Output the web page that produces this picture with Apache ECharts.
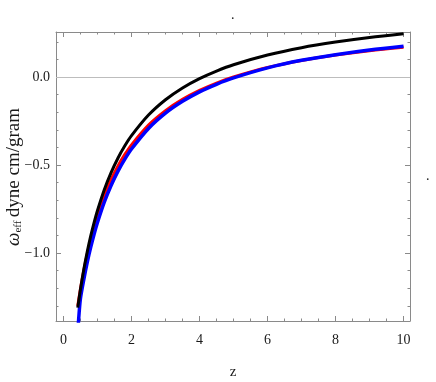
<!DOCTYPE html>
<html><head><meta charset="utf-8">
<script src="https://cdn.jsdelivr.net/npm/echarts@6/dist/echarts.min.js"></script>
<style>html,body{margin:0;padding:0;background:#fff}#c{width:436px;height:382px}</style>
</head><body><div id="c"></div>
<script>
// ---- data ----
const zMain = [0.42,0.5,0.6,0.7,0.8,0.9,1.0,1.2,1.4,1.6,1.8,2.0,2.5,3.0,3.5,4.0,4.5,5.0,6.0,7.0,8.0,9.0,10];
const blackVals = [-1.31,-1.206,-1.091,-0.992,-0.904,-0.827,-0.758,-0.640,-0.543,-0.461,-0.392,-0.333,-0.216,-0.129,-0.062,-0.009,0.034,0.070,0.125,0.167,0.199,0.225,0.246];
const redVals = [-1.300,-1.203,-1.097,-1.004,-0.923,-0.850,-0.786,-0.675,-0.583,-0.506,-0.441,-0.385,-0.273,-0.191,-0.127,-0.076,-0.034,0.000,0.054,0.094,0.125,0.150,0.170];
const zBlue = [0.43,0.46,0.5,0.6,0.7,0.8,0.9,1.0,1.2,1.4,1.6,1.8,2.0,2.5,3.0,3.5,4.0,4.5,5.0,6.0,7.0,8.0,9.0,10];
const blueVals = [-1.42,-1.34,-1.257,-1.148,-1.052,-0.968,-0.893,-0.826,-0.711,-0.616,-0.536,-0.468,-0.409,-0.292,-0.205,-0.138,-0.084,-0.041,-0.005,0.052,0.095,0.127,0.154,0.175];
const xTickLabels = [0,2,4,6,8,10];
const yTickLabels = [-1.0,-0.5,0.0];
const xMinorStep = 0.5, yMinorStep = 0.1;
const yTitle = '{w|\u03c9}{s|eff} {t|dyne cm/gram}';
const xTitle = 'z';

const XMIN = -0.22, XMAX = 10.19, YMIN = -1.386, YMAX = 0.256;
const FRAME = '#8a8a8a', FONT = '"Liberation Serif", "DejaVu Serif", serif';

function range(a, b, s){ const r=[]; for(let v=a; v<=b+1e-9; v+=s) r.push(Math.round(v*1000)/1000); return r; }
const xMinor = range(0, 10, xMinorStep);
const yMinor = range(-1.3, 0.2, yMinorStep);
const yMajorTicks = [-1.0,-0.5,0.0];

function pair(xs, ys){ return xs.map((x,i)=>[x, ys[i]]); }
function fmtY(v){ return v.toFixed(1).replace('-', '\u2212'); }

function xAx(pos, ticks, len, labels, line, extra){
  return Object.assign({
    type:'value', min:XMIN, max:XMAX, position:pos,
    axisLine:{show:line, onZero:false, lineStyle:{color:FRAME, width:1}},
    axisTick:{show:true, inside:true, length:len, customValues:ticks, lineStyle:{color:FRAME, width:1}},
    axisLabel: labels ? {show:true, customValues:labels, margin:12, fontFamily:FONT, fontSize:14, color:'#1a1a1a'} : {show:false},
    splitLine:{show:false}
  }, extra||{});
}
function yAx(pos, ticks, len, labels, line, extra){
  return Object.assign({
    type:'value', min:YMIN, max:YMAX, position:pos,
    axisLine:{show:line, onZero:false, lineStyle:{color:FRAME, width:1}},
    axisTick:{show:true, inside:true, length:len, customValues:ticks, lineStyle:{color:FRAME, width:1}},
    axisLabel: labels ? {show:true, customValues:labels, margin:6, fontFamily:FONT, fontSize:14, color:'#1a1a1a', formatter:fmtY} : {show:false},
    splitLine:{show:false}
  }, extra||{});
}

const chart = echarts.init(document.getElementById('c'), null, {renderer:'canvas'});
chart.setOption({
  animation:false,
  backgroundColor:'#fff',
  grid:{left:56, top:32, right:26, bottom:61, containLabel:false, outerBoundsMode:'none'},
  xAxis:[
    xAx('bottom', xTickLabels, 5, xTickLabels, true, {name:xTitle, nameLocation:'middle', nameGap:44, nameTextStyle:{fontFamily:FONT, fontSize:15, color:'#1a1a1a'}}),
    xAx('bottom', xMinor, 2.5, null, false),
    xAx('top', xTickLabels, 5, null, true),
    xAx('top', xMinor, 2.5, null, false)
  ],
  yAxis:[
    yAx('left', yMajorTicks, 5, yTickLabels, true),
    yAx('left', yMinor, 2.5, null, false),
    yAx('right', yMajorTicks, 5, null, true),
    yAx('right', yMinor, 2.5, null, false)
  ],
  graphic:[
    {type:'text', x:231, y:8, style:{text:'.', font:'14px "Liberation Serif"', fill:'#1a1a1a'}},
    {type:'text', x:426, y:169, style:{text:'.', font:'14px "Liberation Serif"', fill:'#1a1a1a'}},
    {type:'text', x:14, y:177, rotation:Math.PI/2, style:{
      text:yTitle, align:'center', verticalAlign:'middle', fill:'#1a1a1a',
      rich:{
        w:{fontFamily:FONT, fontSize:19, fontStyle:'italic', fill:'#1a1a1a'},
        s:{fontFamily:FONT, fontSize:11, fill:'#1a1a1a', verticalAlign:'bottom', padding:[8,0,0,0]},
        t:{fontFamily:FONT, fontSize:19, fill:'#1a1a1a'}
      }}}
  ],
  series:[
    {type:'line', name:'red', data:pair(zMain, redVals), smooth:0.3, showSymbol:false, clip:true,
     lineStyle:{color:'#ff0000', width:3}, z:2,
     markLine:{silent:true, symbol:'none', label:{show:false}, lineStyle:{color:'#bdbdbd', width:1, type:'solid'}, data:[{yAxis:0}], z:1}},
    {type:'line', name:'blue', data:pair(zBlue, blueVals), smooth:0.3, showSymbol:false, clip:true,
     lineStyle:{color:'#0000ff', width:3.5}, z:3},
    {type:'line', name:'black', data:pair(zMain, blackVals), smooth:0.3, showSymbol:false, clip:true,
     lineStyle:{color:'#000000', width:3}, z:4}
  ]
});
</script></body></html>
